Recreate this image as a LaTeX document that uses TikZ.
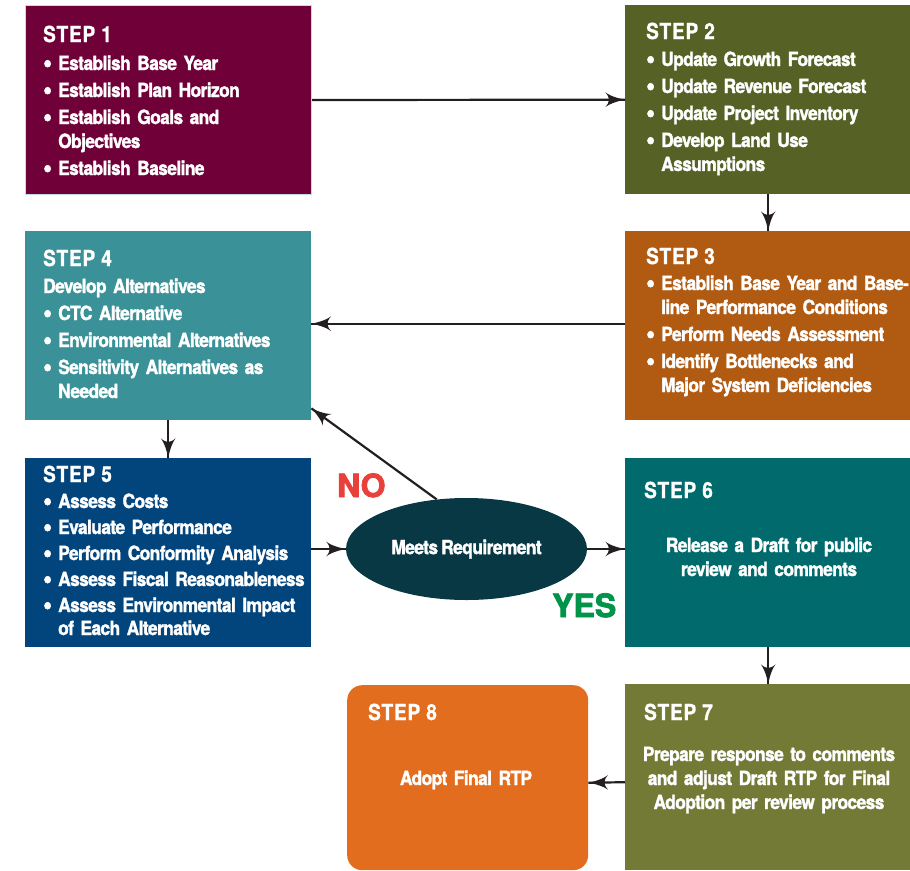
\documentclass[tikz,border=0pt]{standalone}
\usepackage{graphicx}
\usepackage{fontspec}
\setmainfont{TeX Gyre Heros}[FakeStretch=0.89, LetterSpace=-3, WordSpace=0.75, BoldFeatures={FakeBold=1.6}]
\newfontfamily\headfont{TeX Gyre Heros}[FakeStretch=0.86, LetterSpace=4, BoldFeatures={FakeBold=1.2}]
\newfontfamily\signfont{TeX Gyre Heros}[BoldFeatures={FakeBold=2.5}]
\usepackage{tikz}
\usetikzlibrary{arrows}
\usetikzlibrary{decorations.markings}
\usetikzlibrary{shapes.geometric}
\definecolor{stepone}{HTML}{700038}
\definecolor{steptwo}{HTML}{556125}
\definecolor{stepthree}{HTML}{B05A12}
\definecolor{stepfour}{HTML}{3A9197}
\definecolor{stepfive}{HTML}{02457C}
\definecolor{stepsix}{HTML}{006A6C}
\definecolor{stepseven}{HTML}{737A36}
\definecolor{stepeight}{HTML}{E26D1F}
\definecolor{reqteal}{HTML}{083844}
\definecolor{edgeblue}{HTML}{C4DCE2}
\definecolor{arrowgrey}{HTML}{231F20}
\definecolor{nored}{HTML}{E8413C}
\definecolor{yesgreen}{HTML}{00934A}
\newcommand{\itemdot}{\makebox[15pt][l]{\raisebox{-2.2pt}{\scalebox{1.45}{\textbullet}}}}
\newcommand{\itemgap}{\hspace*{15pt}}
\tikzset{flow/.style = {arrowgrey, line width = 2.2pt,
                        decoration={markings,
                                    mark=at position 1 with {\arrow[scale=2.1]{latex'}}},
                        postaction={decorate}}}
\tikzset{stepbox/.style = {anchor = north west, inner sep = 0, minimum width = 286pt, minimum height = 189pt}}
\tikzset{head/.style = {anchor = base west, inner sep = 0, text = white, font = \headfont\bfseries\fontsize{22}{26}\selectfont}}
\tikzset{body/.style = {anchor = base west, inner sep = 0, text = white, text width = 300pt, align = left, font = \bfseries\fontsize{19.5}{24}\selectfont}}
\tikzset{midbody/.style = {body, anchor = base, align = center, text width = 280pt}}
\tikzset{sign/.style = {anchor = base west, inner sep = 0, font = \signfont\bfseries\fontsize{32}{36}\selectfont}}
\begin{document}
\begin{tikzpicture}[x=1pt, y=-1pt]
      \useasboundingbox (0, 0) rectangle (910, 870);
      \node [stepbox, fill = stepone, draw = edgeblue, line width = 1pt] (s1) at (25, 5) {};
      \node [stepbox, fill = steptwo] (s2) at (625, 5) {};
      \node [stepbox, fill = stepthree] (s3) at (625, 231) {};
      \node [stepbox, fill = stepfour] (s4) at (25, 231) {};
      \node [stepbox, fill = stepfive] (s5) at (25, 458) {};
      \node [stepbox, fill = stepsix] (s6) at (625, 458) {};
      \node [stepbox, fill = stepseven, minimum height = 186pt] (s7) at (625, 684) {};
      \node [stepbox, fill = stepeight, minimum width = 241pt, minimum height = 185pt, rounded corners = 15pt] (s8) at (347, 685) {};
      \node [ellipse, fill = reqteal, minimum width = 241pt, minimum height = 102pt, inner sep = 0, text = white,
             font = \bfseries\fontsize{19.5}{24}\selectfont] (req) at (466.5, 549) {Meets Requirement};

      \node [head] (h1) at (43, 42) {STEP 1};
      \node [body] (b1) at (43, 70) {\itemdot Establish Base Year \\[3pt]
            \itemdot Establish Plan Horizon \\[3pt]
            \itemdot Establish Goals and \\ \itemgap Objectives \\[3pt]
            \itemdot Establish Baseline};
      \node [head] (h2) at (646, 39) {STEP 2};
      \node [body] (b2) at (646, 66) {\itemdot Update Growth Forecast \\[3pt]
            \itemdot Update Revenue Forecast \\[3pt]
            \itemdot Update Project Inventory \\[3pt]
            \itemdot Develop Land Use \\ \itemgap Assumptions};
      \node [head] (h3) at (646, 264) {STEP 3};
      \node [body] (b3) at (646, 290) {\itemdot Establish Base Year and Base- \\ \itemgap line Performance Conditions \\[3pt]
            \itemdot Perform Needs Assessment \\[3pt]
            \itemdot Identify Bottlenecks and \\ \itemgap Major System Deficiencies};
      \node [head] (h4) at (43, 266) {STEP 4};
      \node [body] (b4) at (43, 293) {Develop Alternatives \\[3pt]
            \itemdot CTC Alternative \\[3pt]
            \itemdot Environmental Alternatives \\[3pt]
            \itemdot Sensitivity Alternatives as \\ \itemgap Needed};
      \node [head] (h5) at (43, 482) {STEP 5};
      \node [body, font = \bfseries\fontsize{19.5}{23}\selectfont] (b5) at (43, 508) {\itemdot Assess Costs \\[3pt]
            \itemdot Evaluate Performance \\[3pt]
            \itemdot Perform Conformity Analysis \\[3pt]
            \itemdot Assess Fiscal Reasonableness \\[3pt]
            \itemdot Assess Environmental Impact \\ \itemgap of Each Alternative};
      \node [head] (h6) at (644, 498) {STEP 6};
      \node [midbody] (b6) at (769, 552) {Release a Draft for public \\ review and comments};
      \node [head] (h7) at (644, 720) {STEP 7};
      \node [midbody] (b7) at (769, 761) {Prepare response to comments \\ and adjust Draft RTP for Final \\ Adoption per review process};
      \node [head] (h8) at (368, 720) {STEP 8};
      \node [midbody] (b8) at (466, 785) {Adopt Final RTP};

      \node [sign, text = nored] (no) at (337, 497) {NO};
      \node [sign, text = yesgreen] (yes) at (552, 617) {YES};

      \draw [flow] (s1.east) -- (s2.west);
      \draw [flow] (s2.south) -- (s3.north);
      \draw [flow] ([yshift=2pt]s3.west) -- ([yshift=2pt]s4.east);
      \draw [flow] (s4.south) -- (s5.north);
      \draw [flow] (s5.east |- req.west) -- (req.west);
      \draw [flow] (req.east) -- (req.east -| s6.west);
      \draw [flow] (req.121) -- (s4.-30);
      \draw [flow] (s6.south) -- (s7.north);
      \draw [flow] ([yshift=-5pt]s7.west) -- ([yshift=-5pt]s8.east);
    \end{tikzpicture}
\end{document}
